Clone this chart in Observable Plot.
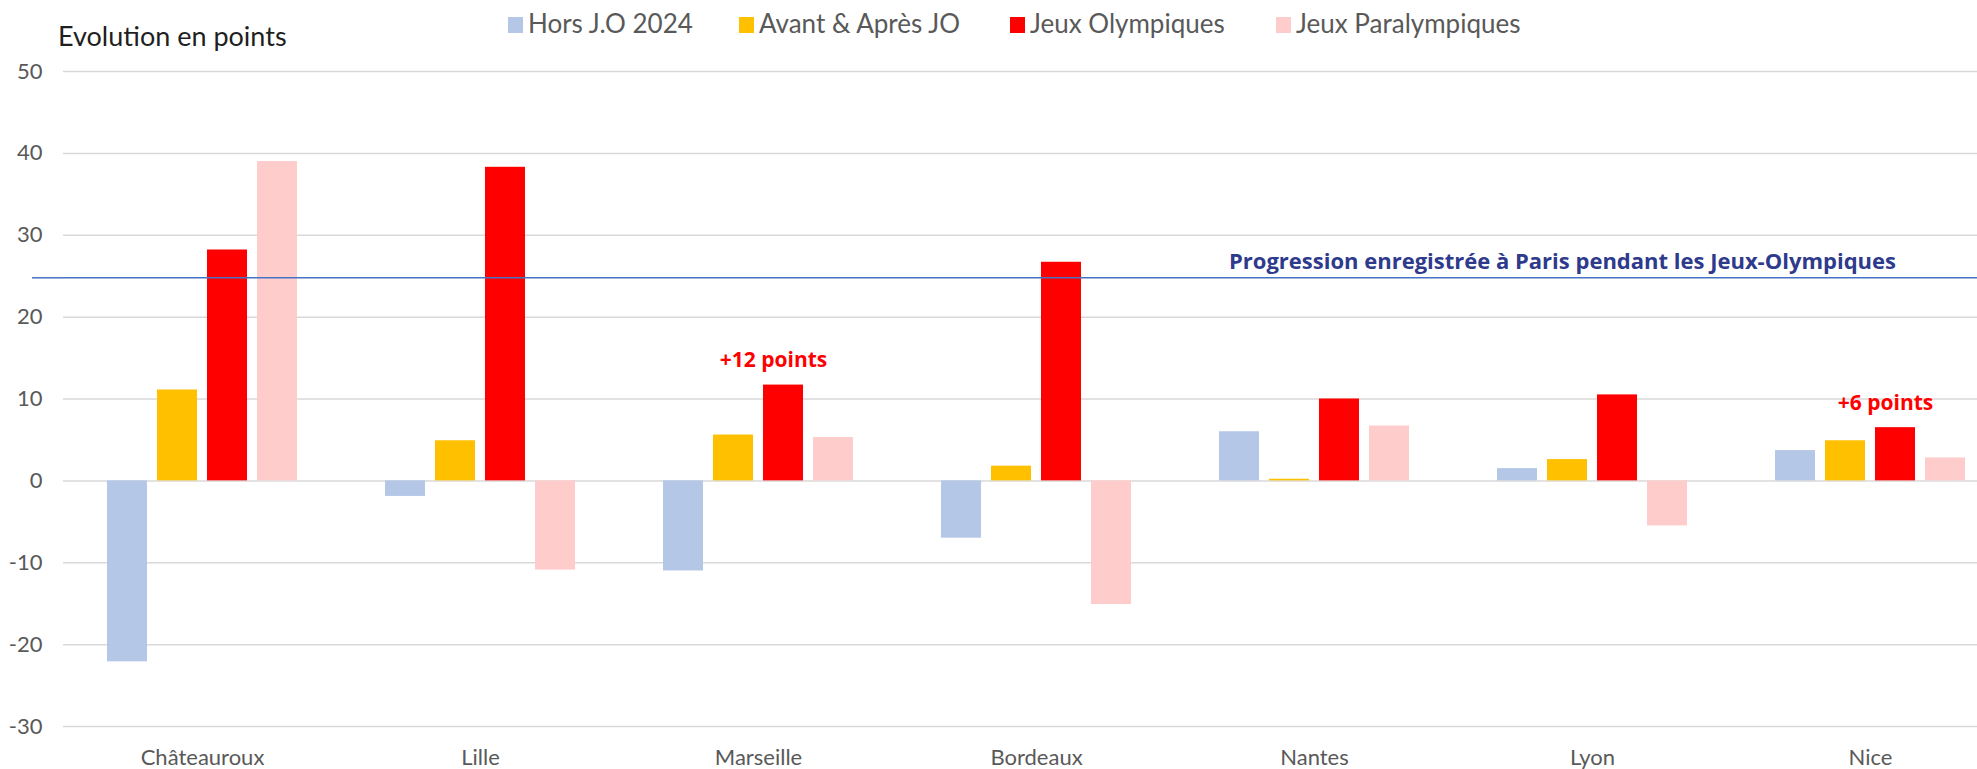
<!DOCTYPE html>
<html>
<head>
<meta charset="utf-8">
<script src="https://cdn.jsdelivr.net/npm/d3@7"></script>
<script src="https://cdn.jsdelivr.net/npm/@observablehq/plot@0.6"></script>
<style>
  html, body { margin: 0; padding: 0; background: #fff; width: 1977px; height: 769px; overflow: hidden; }
  #header { position: relative; width: 1977px; height: 56px; font-family: Lato, sans-serif; }
  #title { position: absolute; left: 58px; top: 22px; font-size: 27px; line-height: 27px; color: #1f1f1f; white-space: nowrap; }
  .item { position: absolute; top: 10px; display: flex; align-items: center; font-size: 26px; line-height: 26px; color: #595959; white-space: nowrap; }
  .sw { width: 15px; height: 16px; margin-right: 5px; position: relative; top: 2px; }
  #chart svg { display: block; }
</style>
</head>
<body>
<div id="header">
  <div id="title"></div>
</div>
<div id="chart"></div>
<script>
// ---- data ----
const cities = ["Châteauroux", "Lille", "Marseille", "Bordeaux", "Nantes", "Lyon", "Nice"];
const series = ["Hors J.O 2024", "Avant & Après JO", "Jeux Olympiques", "Jeux Paralympiques"];
const seriesColors = ["#B4C7E7", "#FFC000", "#FF0000", "#FFCCCC"];
const horsJO = [-22.1, -1.9, -11.0, -7.0, 6.0, 1.5, 3.7];
const avantApres = [11.1, 4.9, 5.6, 1.8, 0.2, 2.6, 4.9];
const jeuxOlympiques = [28.2, 38.3, 11.7, 26.7, 10.0, 10.5, 6.5];
const jeuxParalympiques = [39.0, -10.9, 5.3, -15.1, 6.7, -5.5, 2.8];
const yTicks = [-30, -20, -10, 0, 10, 20, 30, 40, 50];
const parisValue = 24.8;
const parisLabel = "Progression enregistrée à Paris pendant les Jeux-Olympiques";
const annotCities = ["Marseille", "Nice"];
const annotLabels = ["+12 points", "+6 points"];
const titleText = "Evolution en points";

// ---- header (title + legend) ----
const legendLefts = [508, 739, 1010, 1276];
const header = document.getElementById("header");
document.getElementById("title").textContent = titleText;
series.forEach((s, i) => {
  const item = document.createElement("div");
  item.className = "item";
  item.style.left = legendLefts[i] + "px";
  const sw = document.createElement("span");
  sw.className = "sw";
  sw.style.background = seriesColors[i];
  const t = document.createElement("span");
  t.textContent = s;
  item.appendChild(sw);
  item.appendChild(t);
  header.appendChild(item);
});

// ---- tables built from arrays ----
const seriesValues = [horsJO, avantApres, jeuxOlympiques, jeuxParalympiques];
const rows = cities.flatMap((c, i) => series.map((s, j) => ({city: c, series: s, value: seriesValues[j][i]})));
const annots = annotCities.map((c, k) => ({city: c, label: annotLabels[k], series: series[2], value: jeuxOlympiques[cities.indexOf(c)]}));
const parisNote = [{city: "Lyon", label: parisLabel, value: parisValue}];
const parisStub = [{city: cities[0], value: parisValue}];

const facetStep = 278;
const chart = Plot.plot({
  width: 1977,
  height: 713,
  marginLeft: 32,
  marginRight: 0,
  marginTop: 15,
  marginBottom: 43,
  style: {fontFamily: "Lato, sans-serif", fontSize: "22px", color: "#595959", background: "#fff"},
  fx: {domain: cities, range: [63, 63 + facetStep * cities.length], padding: 0, label: null},
  x: {domain: series, paddingInner: 0.21, paddingOuter: 0.85, axis: null},
  y: {domain: [-30, 50], label: null},
  color: {domain: series, range: seriesColors},
  marks: [
    Plot.gridY(yTicks, {stroke: "#d9d9d9", strokeOpacity: 1, strokeWidth: 1.5}),
    Plot.axisY(yTicks, {tickSize: 0, tickPadding: 21, fontSize: 22, tickFormat: d => String(d), label: null}),
    Plot.axisFx({anchor: "bottom", tickSize: 0, tickPadding: 23, fontSize: 22, label: null}),
    Plot.barY(rows, {fx: "city", x: "series", y: "value", fill: "series"}),
    Plot.ruleY([parisValue], {stroke: "#4472C4", strokeWidth: 1.5}),
    Plot.ruleY(parisStub, {fx: "city", y: "value", stroke: "#4472C4", strokeWidth: 1.5, insetLeft: -31, insetRight: facetStep}),
    Plot.text(parisNote, {fx: "city", y: "value", text: "label", frameAnchor: "middle", textAnchor: "middle", lineAnchor: "bottom", dx: -30, dy: -9, fill: "#2E3A8C", fontWeight: "bold", fontSize: 22, fontFamily: "'Open Sans', sans-serif"}),
    Plot.text(annots, {fx: "city", x: "series", y: "value", text: "label", textAnchor: "middle", lineAnchor: "bottom", dx: -10, dy: -18, fill: "#FF0000", fontWeight: "bold", fontSize: 21, fontFamily: "'Open Sans', sans-serif"})
  ]
});
document.getElementById("chart").appendChild(chart);
</script>
</body>
</html>
